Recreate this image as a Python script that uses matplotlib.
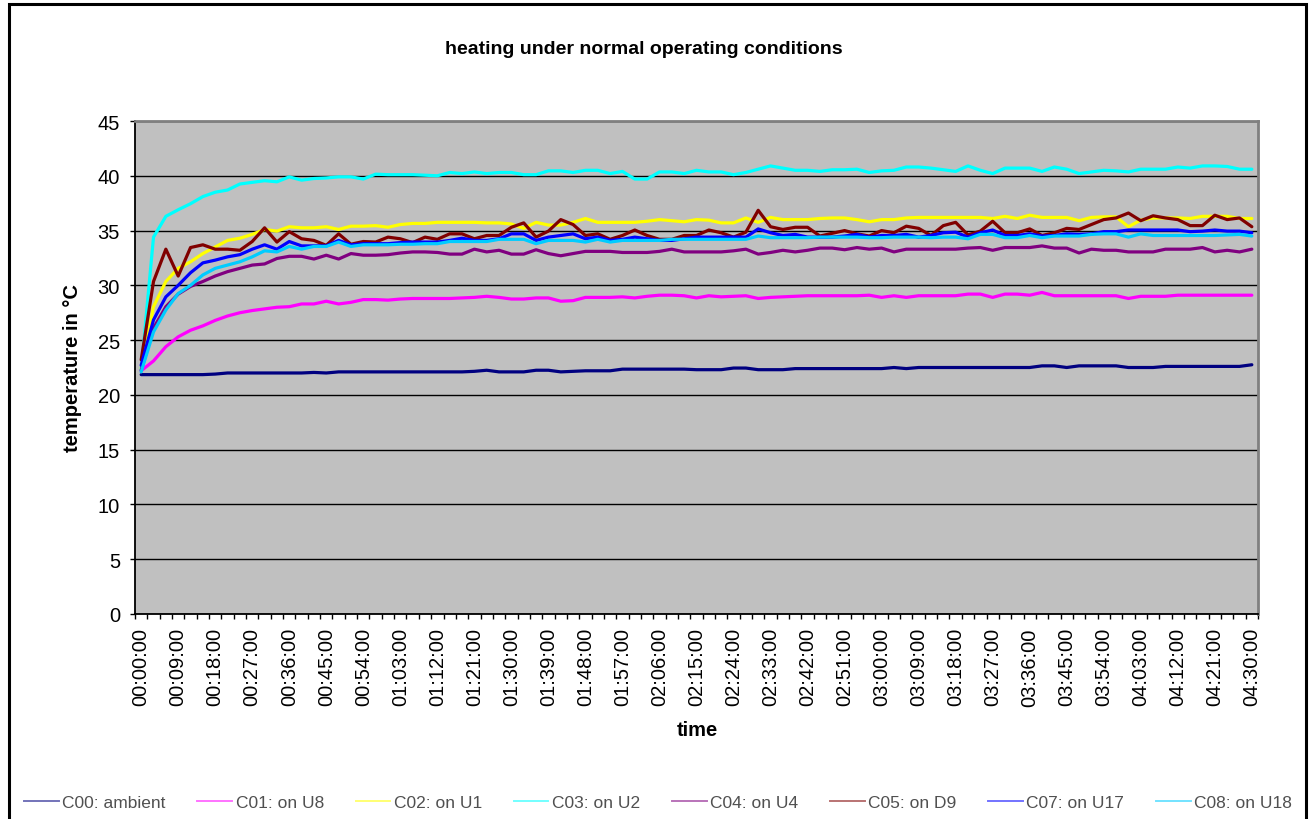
import numpy as np
import matplotlib
matplotlib.use("Agg")
import matplotlib.pyplot as plt
from matplotlib.patches import Rectangle
from matplotlib.lines import Line2D

plt.rcParams['font.family'] = ['Liberation Sans', 'DejaVu Sans']

# ---------------- data ----------------
title = "heating under normal operating conditions"
x_label = "time"
y_label = "temperature in °C"

tick_labels = ["00:00:00", "00:09:00", "00:18:00", "00:27:00", "00:36:00", "00:45:00",
               "00:54:00", "01:03:00", "01:12:00", "01:21:00", "01:30:00", "01:39:00",
               "01:48:00", "01:57:00", "02:06:00", "02:15:00", "02:24:00", "02:33:00",
               "02:42:00", "02:51:00", "03:00:00", "03:09:00", "03:18:00", "03:27:00",
               "03:36:00", "03:45:00", "03:54:00", "04:03:00", "04:12:00", "04:21:00",
               "04:30:00"]
n_points = 91          # one sample every 3 minutes
label_every = 3

names = ["C00: ambient", "C01: on U8", "C02: on U1", "C03: on U2",
         "C04: on U4", "C05: on D9", "C07: on U17", "C08: on U18"]
colors = ["#000080", "#FF00FF", "#FFFF00", "#00FFFF",
          "#800080", "#800000", "#0000FF", "#00CCFF"]

c00 = [21.85, 21.85, 21.85, 21.85, 21.85, 21.85, 21.9, 22.0, 22.0, 22.0,
       22.0, 22.0, 22.0, 22.0, 22.05, 22.0, 22.1, 22.1, 22.1, 22.1,
       22.1, 22.1, 22.1, 22.1, 22.1, 22.1, 22.1, 22.15, 22.25, 22.1,
       22.1, 22.1, 22.25, 22.25, 22.1, 22.15, 22.2, 22.2, 22.2, 22.35,
       22.35, 22.35, 22.35, 22.35, 22.35, 22.3, 22.3, 22.3, 22.45, 22.45,
       22.3, 22.3, 22.3, 22.4, 22.4, 22.4, 22.4, 22.4, 22.4, 22.4,
       22.4, 22.5, 22.4, 22.5, 22.5, 22.5, 22.5, 22.5, 22.5, 22.5,
       22.5, 22.5, 22.5, 22.65, 22.65, 22.5, 22.65, 22.65, 22.65, 22.65,
       22.5, 22.5, 22.5, 22.6, 22.6, 22.6, 22.6, 22.6, 22.6, 22.6, 22.75]

c01 = [22.2, 23.1, 24.4, 25.3, 25.9, 26.3, 26.8, 27.2, 27.5, 27.7,
       27.85, 28.0, 28.05, 28.3, 28.3, 28.55, 28.3, 28.45, 28.7, 28.7,
       28.65, 28.75, 28.8, 28.8, 28.8, 28.8, 28.85, 28.9, 29.0, 28.9,
       28.75, 28.75, 28.85, 28.85, 28.55, 28.6, 28.9, 28.9, 28.9, 28.95,
       28.85, 29.0, 29.1, 29.1, 29.05, 28.85, 29.05, 28.95, 29.0, 29.05,
       28.8, 28.9, 28.95, 29.0, 29.05, 29.05, 29.05, 29.05, 29.05, 29.1,
       28.9, 29.05, 28.9, 29.05, 29.05, 29.05, 29.05, 29.2, 29.2, 28.9,
       29.2, 29.2, 29.1, 29.35, 29.05, 29.05, 29.05, 29.05, 29.05, 29.05,
       28.8, 29.0, 29.0, 29.0, 29.1, 29.1, 29.1, 29.1, 29.1, 29.1, 29.1]

c02 = [22.4, 28.05, 30.35, 31.55, 32.15, 32.9, 33.5, 34.1, 34.3, 34.65,
       35.1, 34.95, 35.35, 35.25, 35.25, 35.35, 35.1, 35.4, 35.4, 35.45,
       35.3, 35.55, 35.65, 35.65, 35.75, 35.75, 35.75, 35.75, 35.7, 35.7,
       35.6, 35.2, 35.75, 35.5, 35.5, 35.75, 36.1, 35.75, 35.75, 35.75,
       35.75, 35.85, 36.0, 35.9, 35.8, 36.0, 35.95, 35.7, 35.7, 36.15,
       35.75, 36.2, 36.0, 36.0, 36.0, 36.1, 36.15, 36.15, 36.0, 35.8,
       36.0, 36.0, 36.15, 36.2, 36.2, 36.2, 36.2, 36.2, 36.2, 36.1,
       36.3, 36.1, 36.4, 36.2, 36.2, 36.2, 35.9, 36.2, 36.25, 36.25,
       35.35, 35.95, 36.15, 36.15, 36.15, 36.1, 36.3, 36.3, 36.3, 36.1, 36.1]

c03 = [22.25, 34.4, 36.3, 36.9, 37.45, 38.1, 38.5, 38.7, 39.25, 39.4,
       39.55, 39.45, 39.9, 39.6, 39.75, 39.8, 39.9, 39.9, 39.7, 40.15,
       40.1, 40.1, 40.1, 40.05, 40.0, 40.3, 40.2, 40.35, 40.2, 40.3,
       40.3, 40.1, 40.1, 40.45, 40.45, 40.3, 40.5, 40.5, 40.2, 40.4,
       39.7, 39.7, 40.35, 40.35, 40.2, 40.5, 40.35, 40.35, 40.1, 40.3,
       40.6, 40.9, 40.7, 40.5, 40.5, 40.4, 40.55, 40.55, 40.6, 40.3,
       40.45, 40.5, 40.8, 40.8, 40.7, 40.55, 40.4, 40.9, 40.5, 40.2,
       40.7, 40.7, 40.7, 40.4, 40.8, 40.6, 40.2, 40.35, 40.5, 40.45,
       40.35, 40.6, 40.6, 40.6, 40.8, 40.7, 40.9, 40.9, 40.85, 40.6, 40.6]

c04 = [22.25, 26.1, 28.05, 29.2, 29.9, 30.35, 30.85, 31.25, 31.55, 31.85,
       31.95, 32.45, 32.65, 32.65, 32.4, 32.75, 32.4, 32.9, 32.75, 32.75,
       32.8, 32.95, 33.05, 33.05, 33.0, 32.85, 32.85, 33.3, 33.05, 33.2,
       32.85, 32.85, 33.25, 32.9, 32.7, 32.9, 33.1, 33.1, 33.1, 33.0,
       33.0, 33.0, 33.1, 33.3, 33.05, 33.05, 33.05, 33.05, 33.15, 33.3,
       32.85, 33.0, 33.2, 33.05, 33.2, 33.4, 33.4, 33.25, 33.45, 33.3,
       33.4, 33.05, 33.3, 33.3, 33.3, 33.3, 33.3, 33.4, 33.45, 33.2,
       33.45, 33.45, 33.45, 33.6, 33.4, 33.4, 32.95, 33.3, 33.2, 33.2,
       33.05, 33.05, 33.05, 33.3, 33.3, 33.3, 33.45, 33.05, 33.2, 33.05, 33.3]

c05 = [23.2, 30.35, 33.3, 30.85, 33.45, 33.7, 33.3, 33.3, 33.2, 34.0,
       35.25, 33.95, 34.9, 34.25, 34.1, 33.65, 34.7, 33.75, 34.0, 33.95,
       34.4, 34.25, 33.9, 34.4, 34.2, 34.7, 34.7, 34.25, 34.55, 34.55,
       35.3, 35.7, 34.4, 34.95, 36.0, 35.55, 34.55, 34.7, 34.2, 34.55,
       35.05, 34.55, 34.2, 34.2, 34.55, 34.55, 35.05, 34.8, 34.4, 34.85,
       36.85, 35.35, 35.1, 35.3, 35.3, 34.5, 34.75, 35.0, 34.7, 34.5,
       35.0, 34.8, 35.4, 35.2, 34.55, 35.45, 35.75, 34.6, 34.95, 35.85,
       34.8, 34.8, 35.15, 34.55, 34.8, 35.2, 35.1, 35.55, 36.0, 36.15,
       36.6, 35.9, 36.35, 36.15, 36.0, 35.45, 35.45, 36.4, 36.0, 36.15, 35.35]

c07 = [22.7, 26.85, 28.95, 30.0, 31.15, 32.05, 32.3, 32.6, 32.8, 33.3,
       33.7, 33.3, 34.0, 33.6, 33.6, 33.6, 34.1, 33.7, 33.8, 33.8,
       33.8, 33.9, 33.95, 33.95, 33.95, 34.1, 34.3, 34.1, 34.1, 34.25,
       34.7, 34.7, 34.1, 34.4, 34.55, 34.7, 34.25, 34.4, 34.1, 34.2,
       34.4, 34.25, 34.1, 34.1, 34.25, 34.4, 34.4, 34.4, 34.4, 34.4,
       35.15, 34.8, 34.55, 34.65, 34.4, 34.4, 34.4, 34.5, 34.65, 34.4,
       34.55, 34.55, 34.65, 34.4, 34.55, 34.8, 34.85, 34.4, 34.8, 35.05,
       34.55, 34.55, 34.7, 34.5, 34.55, 34.7, 34.65, 34.7, 34.9, 34.9,
       35.05, 35.05, 35.05, 35.05, 35.05, 34.9, 34.95, 35.05, 34.95, 34.95, 34.8]

c08 = [22.1, 25.75, 27.75, 29.25, 30.0, 30.95, 31.55, 31.85, 32.15, 32.6,
       33.15, 33.05, 33.55, 33.3, 33.55, 33.55, 33.95, 33.55, 33.7, 33.7,
       33.7, 33.75, 33.75, 33.8, 33.8, 34.0, 34.0, 34.0, 34.0, 34.2,
       34.2, 34.2, 33.8, 34.1, 34.1, 34.1, 33.95, 34.2, 33.95, 34.1,
       34.1, 34.1, 34.1, 34.2, 34.2, 34.2, 34.2, 34.2, 34.2, 34.2,
       34.5, 34.35, 34.35, 34.35, 34.35, 34.4, 34.4, 34.4, 34.4, 34.35,
       34.35, 34.4, 34.4, 34.4, 34.35, 34.4, 34.4, 34.25, 34.65, 34.65,
       34.35, 34.35, 34.55, 34.35, 34.5, 34.5, 34.5, 34.65, 34.7, 34.7,
       34.4, 34.7, 34.55, 34.55, 34.55, 34.55, 34.55, 34.55, 34.6, 34.65, 34.5]

series = [c00, c01, c02, c03, c04, c05, c07, c08]
for s in series:
    assert len(s) == n_points, len(s)

# ---------------- figure ----------------
W, H = 1310, 820
fig = plt.figure(figsize=(W / 100, H / 100), dpi=100)
fig.patch.set_facecolor("white")

# outer chart border
fig.patches.append(Rectangle((8.5 / W, -0.02), (1306 - 8.5) / W, 1.02 + (1 - 5 / H) - 1.0 + 0.0,
                             transform=fig.transFigure, fill=False, lw=2.2,
                             ec="black", zorder=0))

left, right, top, bottom = 135, 1258, 122, 615
ax = fig.add_axes([left / W, 1 - bottom / H, (right - left) / W, (bottom - top) / H])
ax.set_facecolor("#C0C0C0")

x = np.arange(n_points)
for vals, col, name in zip(series, colors, names):
    ax.plot(x, vals, color=col, lw=2.3, label=name, solid_capstyle="round")

ax.set_xlim(-0.5, n_points - 0.5)
ax.set_ylim(0, 45)
ax.set_yticks(np.arange(0, 46, 5))
ax.yaxis.grid(True, color="black", lw=1.0)
ax.set_axisbelow(True)

ax.set_xticks(x[::label_every])
ax.set_xticklabels(tick_labels, rotation=90, va="top", ha="center")
ax.set_xticks(np.arange(-0.5, n_points, 1), minor=True)
ax.tick_params(axis="x", which="major", length=0, pad=9.5, labelsize=14.5)
ax.tick_params(axis="x", which="minor", length=3.8, width=1.0, direction="out", color="black")
ax.tick_params(axis="y", which="major", length=3.8, width=1.0, pad=7, labelsize=14.5)

for side in ("top", "right"):
    ax.spines[side].set_color("#808080")
    ax.spines[side].set_linewidth(2.0)
for side in ("left", "bottom"):
    ax.spines[side].set_color("black")
    ax.spines[side].set_linewidth(1.3)

fig.text(644 / W, 1 - 50 / H, title, ha="center", va="center",
         fontsize=14, fontweight="bold")
fig.text(73 / W, 1 - 368 / H, y_label, ha="center", va="center", rotation=90,
         fontsize=14.5, fontweight="bold")
fig.text(697 / W, 1 - 731 / H, x_label, ha="center", va="center",
         fontsize=14.5, fontweight="bold")

handles = [Line2D([], [], color=c, lw=1.4, alpha=0.55) for c in colors]
leg = fig.legend(handles, names, loc="center", ncol=len(names), mode="expand",
                 bbox_to_anchor=(24 / W, 1 - 803 / H - 0.015, (1292 - 24) / W, 0.03),
                 frameon=False, fontsize=12.5, handlelength=2.0, handletextpad=0.2,
                 borderaxespad=0, borderpad=0, columnspacing=1.0)
for t in leg.get_texts():
    t.set_color("#505050")

fig.savefig("out.png", dpi=100)
